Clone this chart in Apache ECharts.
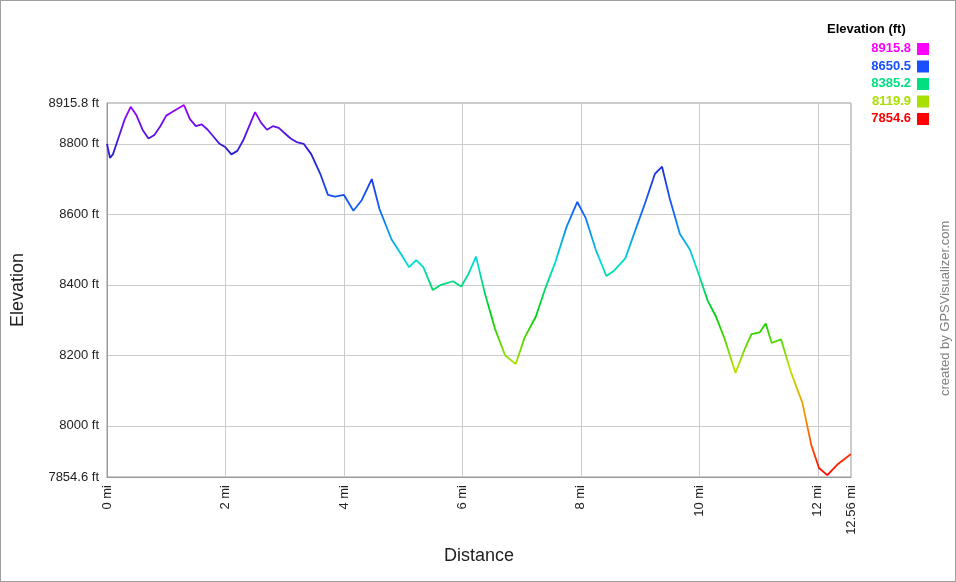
<!DOCTYPE html>
<html><head><meta charset="utf-8">
<script src="https://cdn.jsdelivr.net/npm/echarts@6/dist/echarts.min.js"></script>
<style>html,body{margin:0;padding:0;background:#fff}#c{width:956px;height:582px;box-sizing:border-box;border:1px solid #a0a0a0}</style>
</head><body><div id="c"></div>
<script>
const distance=[0,0.05,0.1,0.2,0.3,0.4,0.5,0.6,0.7,0.8,0.9,1.0,1.1,1.2,1.3,1.4,1.5,1.6,1.7,1.8,1.9,2.0,2.1,2.2,2.3,2.4,2.5,2.6,2.7,2.8,2.9,3.0,3.1,3.2,3.32,3.45,3.6,3.73,3.85,4.0,4.16,4.3,4.47,4.6,4.8,4.97,5.1,5.22,5.34,5.5,5.64,5.84,5.98,6.1,6.23,6.38,6.55,6.72,6.9,7.05,7.24,7.4,7.57,7.76,7.94,8.08,8.25,8.43,8.56,8.75,8.92,9.08,9.25,9.37,9.5,9.67,9.84,10.0,10.14,10.28,10.43,10.61,10.76,10.88,11.02,11.12,11.22,11.38,11.55,11.74,11.89,12.02,12.16,12.33,12.56];
const elevation=[8800,8760,8770,8820,8870,8905,8880,8840,8815,8825,8850,8880,8890,8900,8910,8870,8850,8855,8840,8820,8800,8790,8770,8780,8810,8850,8890,8860,8840,8850,8845,8830,8815,8805,8800,8770,8715,8655,8650,8655,8610,8640,8700,8615,8530,8485,8450,8470,8450,8385,8400,8410,8395,8430,8480,8375,8275,8200,8175,8250,8310,8390,8465,8565,8635,8590,8500,8425,8440,8475,8555,8630,8715,8735,8645,8545,8500,8425,8355,8310,8245,8150,8215,8260,8265,8290,8235,8245,8150,8065,7945,7880,7860,7890,7920];
const yTicks=[7854.6,8000,8200,8400,8600,8800,8915.8];
const xTicks=[0,2,4,6,8,10,12,12.56];
const legendVals=[8915.8,8650.5,8385.2,8119.9,7854.6];
const legendColors=['#ff00ff','#1a4fff','#00e080','#a8e000','#ff0000'];
const ch=echarts.init(document.getElementById('c'));
const font='Arial, "Liberation Sans", sans-serif';
const g=[];
g.push({type:'text',x:826,y:22,style:{text:'Elevation (ft)',font:'bold 13px '+font,fill:'#000'}});
legendVals.forEach((v,i)=>{
 g.push({type:'text',x:910,y:41+i*17.5,style:{text:v.toFixed(1),font:'bold 13px '+font,fill:legendColors[i],align:'right'}});
 g.push({type:'rect',shape:{x:916,y:42+i*17.5,width:12,height:12},style:{fill:legendColors[i]}});
});
g.push({type:'text',x:938,y:395,rotation:Math.PI/2,style:{text:'created by GPSVisualizer.com',font:'13px '+font,fill:'#808080'}});
ch.setOption({
 animation:false,
 grid:{left:103,right:104,top:102,bottom:104,show:true,borderColor:'#999',borderWidth:1},
 visualMap:{show:false,type:'continuous',min:7854.6,max:8915.8,dimension:1,
  inRange:{color:['#ff0000','#ff8000','#c0e000','#00d000','#00e0d0','#1060ff','#2020d0','#a000ff']}},
 xAxis:{type:'value',min:0,max:12.56,name:'Distance',nameLocation:'middle',nameGap:70,
  nameTextStyle:{fontSize:18,fontFamily:font,color:'#222'},
  axisLine:{show:true,lineStyle:{color:'#999'}},axisTick:{show:false,customValues:xTicks},
  splitLine:{show:true,lineStyle:{color:'#ccc'}},
  axisLabel:{customValues:xTicks,rotate:90,fontSize:13,fontFamily:font,color:'#222',formatter:v=>v+' mi'}},
 yAxis:{type:'value',min:7854.6,max:8915.8,name:'Elevation',nameLocation:'middle',nameGap:80,
  nameTextStyle:{fontSize:18,fontFamily:font,color:'#222'},
  axisLine:{show:true,lineStyle:{color:'#999'}},axisTick:{show:false,customValues:yTicks},
  splitLine:{show:true,lineStyle:{color:'#ccc'}},
  axisLabel:{customValues:yTicks,fontSize:13,fontFamily:font,color:'#222',formatter:v=>v+' ft'}},
 graphic:g,
 series:[{type:'line',data:distance.map((d,i)=>[d,elevation[i]]),showSymbol:false,lineStyle:{width:1.8}}]
});
</script></body></html>
